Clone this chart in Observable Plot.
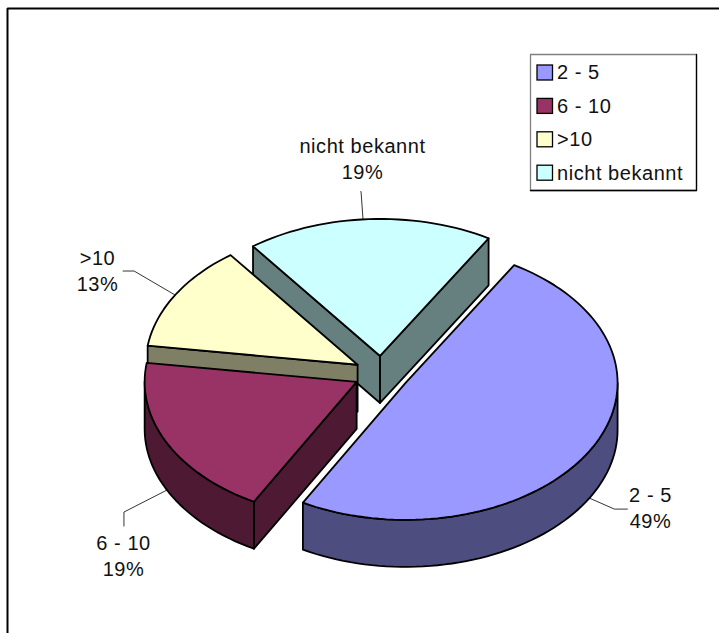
<!DOCTYPE html>
<html><head><meta charset="utf-8">
<script src="https://cdn.jsdelivr.net/npm/d3@7"></script>
<script src="https://cdn.jsdelivr.net/npm/@observablehq/plot@0.6"></script>
<style>html,body{margin:0;padding:0;background:#fff}svg{display:block}</style>
</head><body><div id="chart"></div>
<script>
const categories = ["2 - 5", "6 - 10", ">10", "nicht bekannt"];
const shares = [49.49, 19.18, 12.55, 18.78];
const percentLabels = ["49%", "19%", "13%", "19%"];
const topColors = ["#9999FF", "#993366", "#FFFFCC", "#CCFFFF"];
const sideColors = ["#4D4D80", "#4D1933", "#7F7F66", "#668080"];

const W = 719, H = 633;
const cx = 381, cy = 373.4, rx = 212, ry = 137;
const thick = 47 / ry, explode = 0.131, startDeg = 30.8;
const font = "Liberation Sans, Arial, sans-serif";
const rad = d => d * Math.PI / 180;

// pie units: radius 1, y up
const xDomain = [-cx / rx, (W - cx) / rx];
const yDomain = [(cy - H) / ry, cy / ry];

let acc = startDeg;
const slices = categories.map((c, i) => {
  const a0 = acc, a1 = acc + shares[i] * 3.6; acc = a1;
  const mid = rad((a0 + a1) / 2);
  return {c, i, a0, a1, ox: explode * Math.sin(mid), oy: explode * Math.cos(mid)};
});
const rim = (s, deg, drop = 0) => ({x: s.ox + Math.sin(rad(deg)), y: s.oy + Math.cos(rad(deg)) - drop});
const apex = (s, drop = 0) => ({x: s.ox, y: s.oy - drop});
const arc = (s, a0, a1, drop = 0) => {
  const n = Math.max(2, Math.ceil(Math.abs(a1 - a0) / 2)), out = [];
  for (let k = 0; k <= n; k++) out.push(rim(s, a0 + (a1 - a0) * k / n, drop));
  return out;
};
const closed = a => [...a, a[0]];
const topFace = s => closed([apex(s), ...arc(s, s.a0, s.a1)]);
const radial = (s, deg) => closed([apex(s), rim(s, deg), rim(s, deg, thick), apex(s, thick)]);
const wall = (s, a0, a1) => closed([...arc(s, a0, a1), ...arc(s, a1, a0, thick)]);

const poly = (pts, fill, sw = 1.8) => Plot.line(pts, {x: "x", y: "y", fill, stroke: "#000", strokeWidth: sw, strokeLinejoin: "round", curve: "linear"});

const [blue, maroon, yellow, cyan] = slices;
const pieMarks = [
  poly(radial(cyan, cyan.a0), sideColors[3]),
  poly(radial(cyan, cyan.a1 - 360), sideColors[3]),
  poly(topFace(cyan), topColors[3]),
  poly(radial(yellow, yellow.a0), sideColors[2]),
  poly(topFace(yellow), topColors[2]),
  poly(radial(maroon, maroon.a0), sideColors[1]),
  poly(wall(maroon, maroon.a0, 270), sideColors[1]),
  poly(topFace(maroon), topColors[1]),
  poly(wall(blue, 90, blue.a1), sideColors[0]),
  poly(topFace(blue), topColors[0])
];

// leader lines start on the rim near each slice's mid angle; offsets are in px
const leaderLayout = [
  {drop: thick, shift: 0, e: [25, 11], f: [38, 11], t: [650, 495]},
  {drop: thick, shift: 0, e: [-43, 22], f: [-43, 36], t: [123, 543]},
  {drop: 0, shift: 0, e: [-41, -24], f: [-52, -24], t: [97, 258]},
  {drop: 0, shift: -1.6, e: [-2, -28], f: [-2, -28], t: [362, 146]}
];
const leaderMarks = slices.map((s, i) => {
  const L = leaderLayout[i], a = rim(s, (s.a0 + s.a1) / 2 + L.shift, L.drop);
  const off = ([dx, dy]) => ({x: a.x + dx / rx, y: a.y - dy / ry});
  return Plot.line([a, off(L.e), off(L.f)], {x: "x", y: "y", stroke: "#000", strokeWidth: 0.8});
});

const toX = v => (v - cx) / rx, toY = v => (cy - v) / ry;
const corner = (a, b) => ({x: toX(a), y: toY(b)});
const labelRows = slices.flatMap((s, i) => [
  {x: toX(leaderLayout[i].t[0]), y: toY(leaderLayout[i].t[1]), text: s.c},
  {x: toX(leaderLayout[i].t[0]), y: toY(leaderLayout[i].t[1] + 26), text: percentLabels[i]}
]);

// frame: top and left only
const frameEdges = [corner(7, H), corner(7, 8), corner(W, 8)];

// legend box
const lg = {x0: 530, x1: 696, y0: 54, y1: 190};
const legendBox = closed([corner(lg.x0, lg.y0), corner(lg.x1, lg.y0), corner(lg.x1, lg.y1), corner(lg.x0, lg.y1)]);
const legendShadow = [corner(lg.x1, lg.y0), corner(lg.x1, lg.y1), corner(lg.x0, lg.y1)];
const legendRows = categories.map((c, i) => ({c, i, yc: 72.5 + i * 33.4}));

const plot = Plot.plot({
  width: W, height: H, margin: 0,
  x: {domain: xDomain, range: [0, W], axis: null},
  y: {domain: yDomain, range: [H, 0], axis: null},
  style: {background: "#fff", fontFamily: font, letterSpacing: "0.55px"},
  marks: [
    Plot.line(frameEdges, {x: "x", y: "y", stroke: "#000", strokeWidth: 2, strokeLinejoin: "miter"}),
    ...leaderMarks,
    ...pieMarks,
    Plot.text(labelRows, {x: "x", y: "y", text: "text", fontSize: 20, fill: "#111", textAnchor: "middle", lineAnchor: "middle"}),
    Plot.line(legendBox, {x: "x", y: "y", fill: "#fff", stroke: "#808080", strokeWidth: 1.3}),
    Plot.line(legendShadow, {x: "x", y: "y", stroke: "#000", strokeWidth: 1.3}),
    ...legendRows.map(r => Plot.rect([r], {
      x1: () => toX(537), x2: () => toX(552.5), y1: () => toY(r.yc - 7.5), y2: () => toY(r.yc + 7.5),
      fill: topColors[r.i], stroke: "#000", strokeWidth: 1.3
    })),
    Plot.text(legendRows, {x: () => toX(556.5), y: d => toY(d.yc), text: "c", fontSize: 20, fill: "#111", textAnchor: "start", lineAnchor: "middle"})
  ]
});
document.getElementById("chart").append(plot);
</script></body></html>
